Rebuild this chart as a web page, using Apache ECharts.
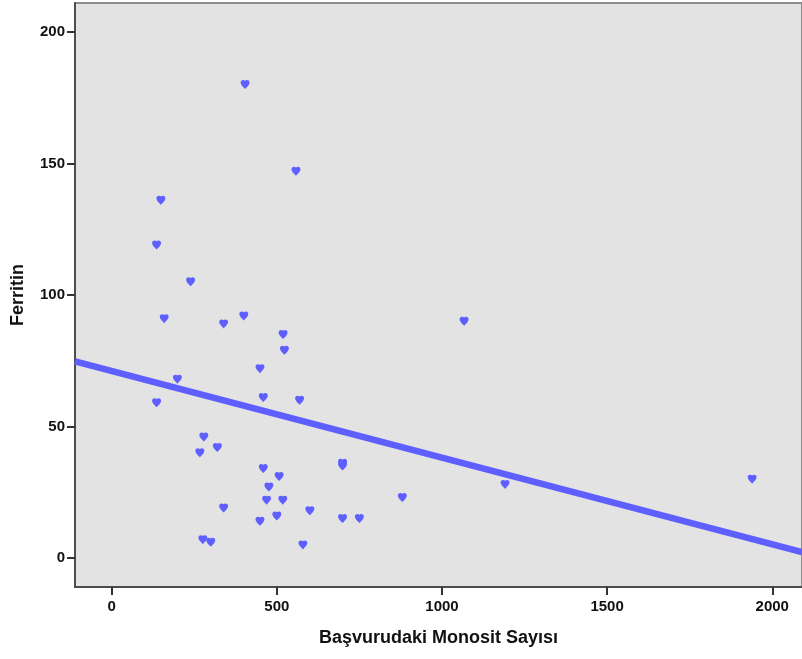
<!DOCTYPE html>
<html>
<head>
<meta charset="utf-8">
<script src="https://cdn.jsdelivr.net/npm/echarts@6/dist/echarts.min.js"></script>
<style>
    html, body { margin: 0; padding: 0; background: #ffffff; }
    #main { width: 802px; height: 659px; }
</style>
</head>
<body>
<div id="main"></div>
<script>
// Başvurudaki Monosit Sayısı (x) / Ferritin (y)
var monositValues = [404, 558, 149, 136, 239, 159, 339, 400, 519, 523, 1067, 449, 199, 136, 459, 569,
    279, 320, 267, 459, 699, 699, 507, 476, 469, 518, 339, 600, 500, 449, 699, 750, 880, 276, 300, 579, 1191, 1939];
var ferritinValues = [180, 147, 136, 119, 105, 91, 89, 92, 85, 79, 90, 72, 68, 59, 61, 60,
    46, 42, 40, 34, 36, 35, 31, 27, 22, 22, 19, 18, 16, 14, 15, 15, 23, 7, 6, 5, 28, 30];
// regresyon doğrusu (uç noktalar)
var fitLineX = [-111, 2090];
var fitLineY = [74.8, 2.3];
var xTickValues = [0, 500, 1000, 1500, 2000];
var yTickValues = [0, 50, 100, 150, 200];

var pointData = [];
for (var i = 0; i < monositValues.length; i++) {
    pointData.push([monositValues[i], ferritinValues[i]]);
}
var lineData = [];
for (var j = 0; j < fitLineX.length; j++) {
    lineData.push([fitLineX[j], fitLineY[j]]);
}

var myChart = echarts.init(document.getElementById("main"));
myChart.setOption({
    animation: false,
    textStyle: { fontFamily: 'Liberation Sans, Arial, sans-serif' },
    grid: {
        left: 75,
        top: 3,
        right: -3,
        bottom: 72,
        show: true,
        backgroundColor: '#e3e3e3',
        borderColor: '#8c8c8c',
        borderWidth: 2
    },
    xAxis: {
        type: 'value',
        min: -111,
        max: 2090,
        name: 'Başvurudaki Monosit Sayısı',
        nameLocation: 'middle',
        nameGap: 42,
        nameTextStyle: { fontSize: 18, fontWeight: 'bold', color: '#111' },
        splitLine: { show: false },
        axisLine: { show: true, onZero: false, lineStyle: { color: '#4d4d4d', width: 2 } },
        axisTick: { show: true, length: 8, customValues: xTickValues, lineStyle: { color: '#333', width: 2 } },
        axisLabel: {
            customValues: xTickValues, margin: 12, fontSize: 15, fontWeight: 'bold', color: '#111',
            formatter: function (v) { return String(v); }
        }
    },
    yAxis: {
        type: 'value',
        min: -11,
        max: 211,
        name: 'Ferritin',
        nameLocation: 'middle',
        nameGap: 48,
        nameRotate: 90,
        nameTextStyle: { fontSize: 18, fontWeight: 'bold', color: '#111' },
        splitLine: { show: false },
        axisLine: { show: true, onZero: false, lineStyle: { color: '#4d4d4d', width: 2 } },
        axisTick: { show: true, length: 8, customValues: yTickValues, lineStyle: { color: '#333', width: 2 } },
        axisLabel: {
            customValues: yTickValues, margin: 10, fontSize: 15, fontWeight: 'bold', color: '#111',
            formatter: function (v) { return String(v); }
        }
    },
    series: [{
        type: 'scatter',
        data: pointData,
        symbol: 'path://M5,1.2 C4,0 0,0 0,3 C0,5 3,7 5,9 C7,7 10,5 10,3 C10,0 6,0 5,1.2 Z',
        symbolSize: [9, 9],
        itemStyle: { color: '#5f5fff', opacity: 1 },
        z: 3
    }, {
        type: 'line',
        data: lineData,
        symbol: 'none',
        lineStyle: { color: '#5f5fff', width: 6.5 },
        z: 2
    }]
});
</script>
</body>
</html>
